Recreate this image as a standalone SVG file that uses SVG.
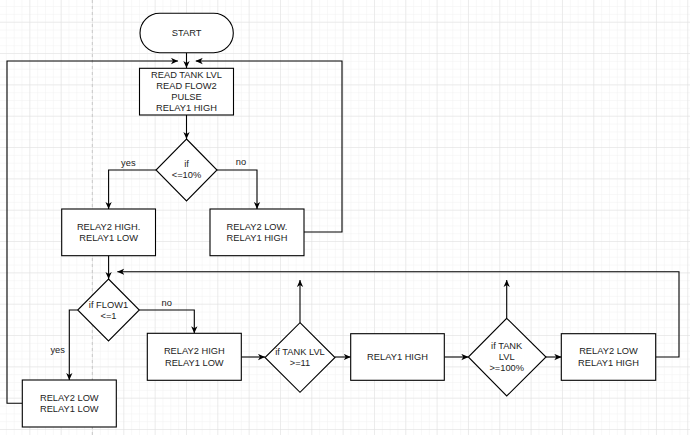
<svg xmlns="http://www.w3.org/2000/svg" width="690" height="435" viewBox="0 0 690 435">
<style>
.shape{fill:#ffffff;stroke:#000000;stroke-width:1.1}
.edge{fill:none;stroke:#000000;stroke-width:1.1}
text{font-family:"Liberation Sans",Arial,sans-serif;font-size:9.3px;fill:#222222;text-anchor:middle;dominant-baseline:central}
</style>
<defs>
<pattern id="minor" patternUnits="userSpaceOnUse" x="-2" y="-9.6" width="7.833" height="7.833">
<path d="M0,0 H7.833 M0,0 V7.833" fill="none" stroke="#f1f1f1" stroke-width="1"/>
</pattern>
<pattern id="major" patternUnits="userSpaceOnUse" x="-2" y="-9.6" width="31.33" height="31.33">
<path d="M0,0 H31.33 M0,0 V31.33" fill="none" stroke="#e0e0e0" stroke-width="1"/>
</pattern>
<marker id="arr" viewBox="0 0 10 10" refX="10" refY="5" markerWidth="7" markerHeight="7" markerUnits="userSpaceOnUse" orient="auto">
<path d="M0,0.5 L10,5 L0,9.5 L2.8,5 z" fill="#000000"/>
</marker>
</defs>
<rect x="0" y="0" width="690" height="435" fill="#ffffff"/>
<rect x="0" y="0" width="690" height="435" fill="url(#minor)"/>
<rect x="0" y="0" width="690" height="435" fill="url(#major)"/>
<line x1="92.3" y1="0" x2="92.3" y2="435" stroke="#c8c8c8" stroke-width="1" stroke-dasharray="3,3"/>

<g id="connectors">
<path class="edge" d="M186.5,53 V68" marker-end="url(#arr)"/>
<path class="edge" d="M22.3,403.3 H7 V61 H178" marker-end="url(#arr)"/>
<path class="edge" d="M304,232 H342 V61 H195.7" marker-end="url(#arr)"/>
<path class="edge" d="M186.5,115 V139" marker-end="url(#arr)"/>
<path class="edge" d="M156,170 H108.6 V209" marker-end="url(#arr)"/>
<path class="edge" d="M217,170 H257 V209" marker-end="url(#arr)"/>
<path class="edge" d="M108.6,255.7 V279" marker-end="url(#arr)"/>
<path class="edge" d="M139.3,310 H194.3 V333.3" marker-end="url(#arr)"/>
<path class="edge" d="M77.7,310 H69.3 V380" marker-end="url(#arr)"/>
<path class="edge" d="M241.3,357 H265" marker-end="url(#arr)"/>
<path class="edge" d="M300,322.7 V280" marker-end="url(#arr)"/>
<path class="edge" d="M335,357 H350.7" marker-end="url(#arr)"/>
<path class="edge" d="M444.3,357 H468.3" marker-end="url(#arr)"/>
<path class="edge" d="M506.7,318.3 V280" marker-end="url(#arr)"/>
<path class="edge" d="M546,357 H561.3" marker-end="url(#arr)"/>
<path class="edge" d="M655.7,357 H679 V271.7 H117.3" marker-end="url(#arr)"/>
<text x="128.3" y="162.5">yes</text>
<text x="241" y="162.3">no</text>
<text x="166.7" y="302.7">no</text>
<text x="57.7" y="349.5">yes</text>
</g>

<g id="start">
<rect class="shape" x="140" y="13.3" width="93.3" height="39.4" rx="19.7" ry="19.7"/>
<text x="186.6" y="33">START</text>
</g>

<g id="read">
<rect class="shape" x="139.5" y="68.3" width="94" height="46.7"/>
<text x="186.5" y="75.3">READ TANK LVL</text>
<text x="186.5" y="86.2">READ FLOW2</text>
<text x="186.5" y="97.3">PULSE</text>
<text x="186.5" y="108.3">RELAY1 HIGH</text>
</g>

<g id="dec10">
<polygon class="shape" points="186.5,139 217,170 186.5,201 156,170"/>
<text x="186.5" y="163.8">if</text>
<text x="186.5" y="175.3">&lt;=10%</text>
</g>

<g id="r2high">
<rect class="shape" x="61.7" y="209" width="93.8" height="46.7"/>
<text x="108.6" y="226.7">RELAY2 HIGH.</text>
<text x="108.6" y="238">RELAY1 LOW</text>
</g>

<g id="r2low">
<rect class="shape" x="210" y="209" width="94" height="46.7"/>
<text x="257" y="226.7">RELAY2 LOW.</text>
<text x="257" y="238">RELAY1 HIGH</text>
</g>

<g id="flow1">
<polygon class="shape" points="108.5,279 139.3,310 108.5,341 77.7,310"/>
<text x="108.5" y="305">if FLOW1</text>
<text x="108.5" y="316.2">&lt;=1</text>
</g>

<g id="r2high2">
<rect class="shape" x="147.3" y="333.3" width="94" height="47"/>
<text x="194.3" y="351">RELAY2 HIGH</text>
<text x="194.3" y="362.7">RELAY1 LOW</text>
</g>

<g id="tank11">
<polygon class="shape" points="300,322.7 335,357.5 300,392.3 265,357.5"/>
<text x="300" y="351.7">if TANK LVL</text>
<text x="300" y="362.8">&gt;=11</text>
</g>

<g id="r1high">
<rect class="shape" x="350.7" y="333.7" width="93.6" height="46.6"/>
<text x="397.5" y="357">RELAY1 HIGH</text>
</g>

<g id="tank100">
<polygon class="shape" points="506.7,318.3 546,357 506.7,396 468.3,357"/>
<text x="506.7" y="346">if TANK</text>
<text x="506.7" y="357">LVL</text>
<text x="506.7" y="368.3">&gt;=100%</text>
</g>

<g id="r2low2">
<rect class="shape" x="561.3" y="333.7" width="94.4" height="46.6"/>
<text x="608.5" y="351">RELAY2 LOW</text>
<text x="608.5" y="362.7">RELAY1 HIGH</text>
</g>

<g id="r2lowr1low">
<rect class="shape" x="22.3" y="380" width="94" height="47"/>
<text x="69.3" y="397.7">RELAY2 LOW</text>
<text x="69.3" y="409.3">RELAY1 LOW</text>
</g>
</svg>
